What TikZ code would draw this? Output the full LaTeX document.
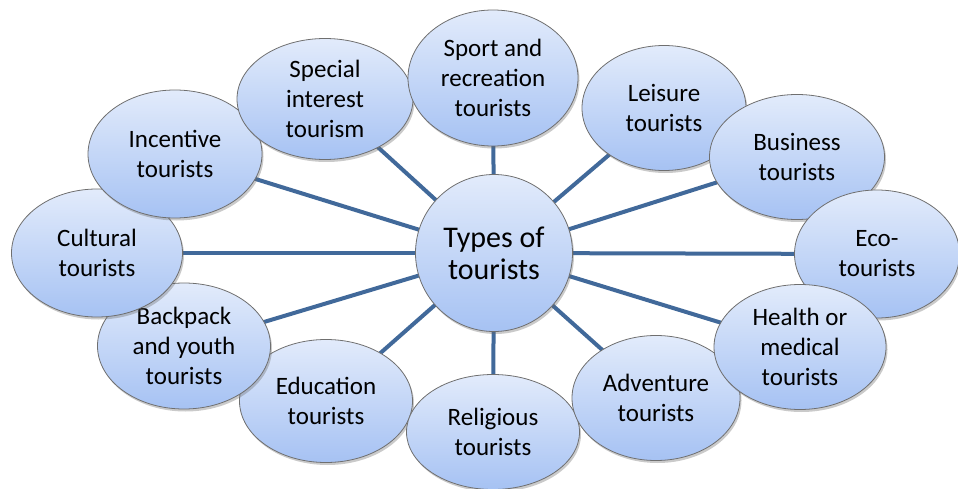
\documentclass[tikz,border=0pt]{standalone}
\usepackage{fontspec}
\setmainfont{Carlito}
\usetikzlibrary{shadows,shapes.geometric,backgrounds}
\definecolor{topc}{HTML}{E2EBFB}
\definecolor{botc}{HTML}{A6C2F3}
\definecolor{linec}{HTML}{41699A}
\definecolor{edgec}{HTML}{6F6F6F}
\tikzset{
  bubble/.style={ellipse, draw=edgec, line width=0.8pt, top color=topc, bottom color=botc,
    inner sep=0pt, align=center, font=\fontsize{25}{30}\selectfont,
    drop shadow={shadow xshift=1.5pt, shadow yshift=-2.5pt, opacity=0.35, fill=black!60}},
  spoke/.style={draw=linec, line width=4pt}
}
\begin{document}
\begin{tikzpicture}[x=1pt,y=-1pt]
\useasboundingbox (0,0) rectangle (958,489);
% outer bubbles
\node[bubble, minimum width=173, minimum height=123] (edu) at (326,401) {Education\\tourists};
\node[bubble, minimum width=173, minimum height=126] (back) at (184,346) {Backpack\\and youth\\tourists};
\node[bubble, minimum width=171, minimum height=128] (cult) at (97,253) {Cultural\\tourists};
\node[bubble, minimum width=174, minimum height=128] (inc) at (175,154) {Incentive\\tourists};
\node[bubble, minimum width=176, minimum height=121] (spec) at (325,99) {Special\\interest\\tourism};
\node[bubble, minimum width=170, minimum height=136] (sport) at (493,78) {Sport and\\recreation\\tourists};
\node[bubble, minimum width=164, minimum height=125] (leis) at (664,108) {Leisure\\tourists};
\node[bubble, minimum width=175, minimum height=125] (bus) at (797,157) {Business\\tourists};
\node[bubble, minimum width=165, minimum height=128] (eco) at (877,254) {Eco-\\tourists};
\node[bubble, minimum width=173, minimum height=115] (rel) at (493,432) {Religious\\tourists};
\node[bubble, minimum width=168, minimum height=125] (adv) at (656,398) {Adventure\\tourists};
\node[bubble, minimum width=172, minimum height=125] (hea) at (800,347) {Health or\\medical\\tourists};
% center
\node[bubble, circle, minimum size=157, font=\fontsize{30}{32}\selectfont] (center) at (494,253) {Types of\\tourists};
% spokes
\begin{scope}[on background layer]
\foreach \n in {edu,back,cult,inc,spec,sport,leis,bus,eco,rel,adv,hea}
  \path[spoke] (center.center) -- (\n.center);
\end{scope}
\end{tikzpicture}
\end{document}
